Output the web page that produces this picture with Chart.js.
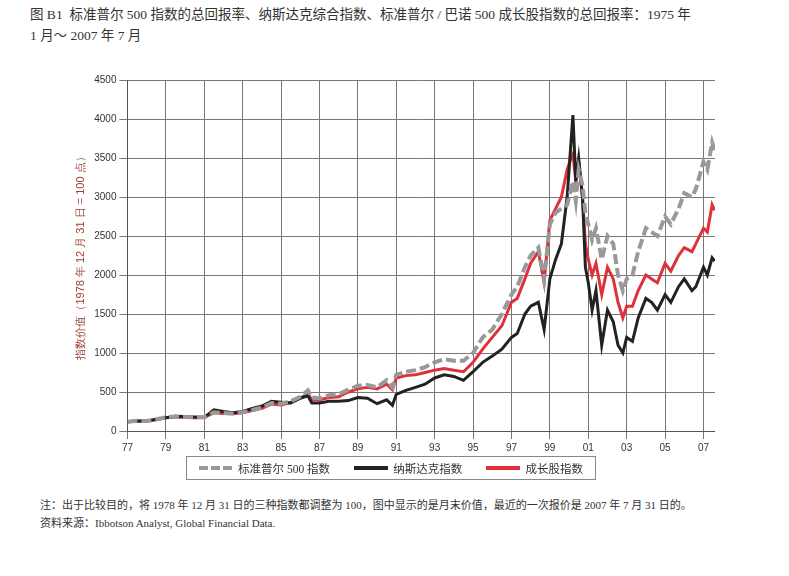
<!DOCTYPE html>
<html><head><meta charset="utf-8">
<script src="https://cdn.jsdelivr.net/npm/chart.js@4"></script>
<style>
body{margin:0;background:#fff;font-family:"Liberation Serif","Noto Sans CJK SC",serif;color:#333;width:789px;height:576px;position:relative;overflow:hidden}
.t{position:absolute;left:30px;top:4px;font-size:13.5px;line-height:21px;width:750px}
#wrap{position:absolute;left:70px;top:71px;width:645px;height:386px}
.lg{position:absolute;left:186px;top:456px;width:408px;height:22px;border:1px solid #888;font-size:11.5px;display:flex;align-items:center;justify-content:space-around}
.lg span{display:inline-flex;align-items:center}
.lg i{display:inline-block;width:34px;height:4px;margin-right:5px}
.n{position:absolute;left:40px;top:496px;font-size:11px;line-height:18px}
</style></head><body>
<div class="t">图 B1 &nbsp;标准普尔 500 指数的总回报率、纳斯达克综合指数、标准普尔 / 巴诺 500 成长股指数的总回报率：1975 年<br>1 月～ 2007 年 7 月</div>
<div id="wrap"><canvas id="c"></canvas></div>
<div class="lg"><span><i style="background:repeating-linear-gradient(90deg,#999 0 9px,transparent 9px 12px)"></i>标准普尔 500 指数</span><span><i style="background:#222"></i>纳斯达克指数</span><span><i style="background:#e0303a"></i>成长股指数</span></div>
<div class="n">注：出于比较目的，将 1978 年 12 月 31 日的三种指数都调整为 100，图中显示的是月末价值，最近的一次报价是 2007 年 7 月 31 日的。<br>资料来源：Ibbotson Analyst, Global Financial Data.</div>
<script>
// [年份, 标普500, 纳斯达克, 成长股]
const rows = [
[1977.0,120,118,118],[1977.5,130,128,126],[1978.0,128,130,125],[1978.5,150,150,145],[1979.0,175,170,170],
[1979.5,185,190,180],[1980.0,180,185,175],[1980.5,175,180,170],[1981.0,175,175,172],[1981.5,240,270,235],
[1982.0,230,250,225],[1982.5,225,235,222],[1983.0,240,250,235],[1983.5,270,290,262],[1984.0,300,320,290],
[1984.5,360,380,345],[1985.0,350,370,335],[1985.5,380,360,365],[1986.0,440,420,420],[1986.4,520,450,480],
[1986.6,430,360,400],[1987.0,420,360,400],[1987.5,460,380,430],[1988.0,470,380,440],[1988.5,530,390,500],
[1989.0,580,430,540],[1989.5,590,420,560],[1990.0,560,350,540],[1990.5,650,400,600],[1990.8,560,330,530],
[1991.0,720,470,680],[1991.5,760,520,710],[1992.0,780,560,720],[1992.5,820,600,750],[1993.0,880,680,780],
[1993.5,920,720,800],[1994.0,900,700,780],[1994.5,900,650,760],[1995.0,1000,760,880],[1995.5,1200,880,1050],
[1996.0,1300,960,1200],[1996.5,1500,1050,1350],[1997.0,1750,1200,1650],[1997.3,1850,1250,1700],[1997.7,2100,1500,1950],
[1998.0,2250,1600,2150],[1998.4,2350,1650,2300],[1998.7,1950,1300,1900],[1999.0,2650,1950,2700],[1999.3,2800,2200,2850],
[1999.6,2850,2400,3000],[1999.9,2900,3000,3350],[2000.1,3100,3700,3500],[2000.2,3200,4050,3550],[2000.35,2950,3200,3200],
[2000.5,3350,3500,3450],[2000.7,3150,3000,3000],[2000.85,2800,2100,2400],[2001.0,2650,1900,2200],[2001.2,2450,1550,2000],
[2001.4,2600,1800,2150],[2001.7,2200,1100,1750],[2002.0,2500,1550,2100],[2002.3,2400,1400,1950],[2002.55,2000,1100,1650],
[2002.8,1800,1000,1450],[2003.0,1950,1200,1600],[2003.3,2000,1150,1600],[2003.6,2300,1450,1800],[2004.0,2600,1700,2000],
[2004.3,2550,1650,1950],[2004.6,2500,1550,1900],[2005.0,2750,1750,2150],[2005.3,2650,1650,2050],[2005.7,2850,1850,2250],
[2006.0,3050,1950,2350],[2006.4,3000,1800,2300],[2006.6,3100,1850,2400],[2007.0,3450,2100,2600],[2007.2,3350,2000,2550],
[2007.45,3700,2220,2900],[2007.58,3600,2180,2830]
];
const pts = i => rows.map(r => ({x: r[0], y: r[i]}));
new Chart(document.getElementById('c'), {
  type: 'line',
  data: { datasets: [
    {label:'标准普尔 500 指数', data: pts(1), borderColor:'#999', borderWidth:4, borderDash:[10,4], pointRadius:0, tension:0},
    {label:'纳斯达克指数', data: pts(2), borderColor:'#222', borderWidth:3, pointRadius:0, tension:0},
    {label:'成长股指数', data: pts(3), borderColor:'#e0303a', borderWidth:3, pointRadius:0, tension:0}
  ]},
  options: {
    responsive: true, maintainAspectRatio: false, animation: false,
    plugins: { legend: { display: false }, tooltip: { enabled: false } },
    scales: {
      x: { type:'linear', min:1977, max:2007.6,
        ticks: { stepSize:2, color:'#333', font:{size:10}, callback: v => String(v % 100).padStart(2,'0') },
        afterBuildTicks: a => { a.ticks = []; for (let y = 1977; y <= 2007; y += 2) a.ticks.push({value:y}); },
        grid: { color:'#777', lineWidth:1 }, border:{color:'#555'} },
      y: { min:0, max:4500,
        ticks: { stepSize:500, color:'#333', font:{size:10}, callback: v => String(v) },
        grid: { color:'#777', lineWidth:1 }, border:{color:'#555'},
        title: { display:true, text:'指数价值（1978 年 12 月 31 日 = 100 点）', color:'#a0403a', font:{size:11} } }
    }
  }
});
</script>
</body></html>
